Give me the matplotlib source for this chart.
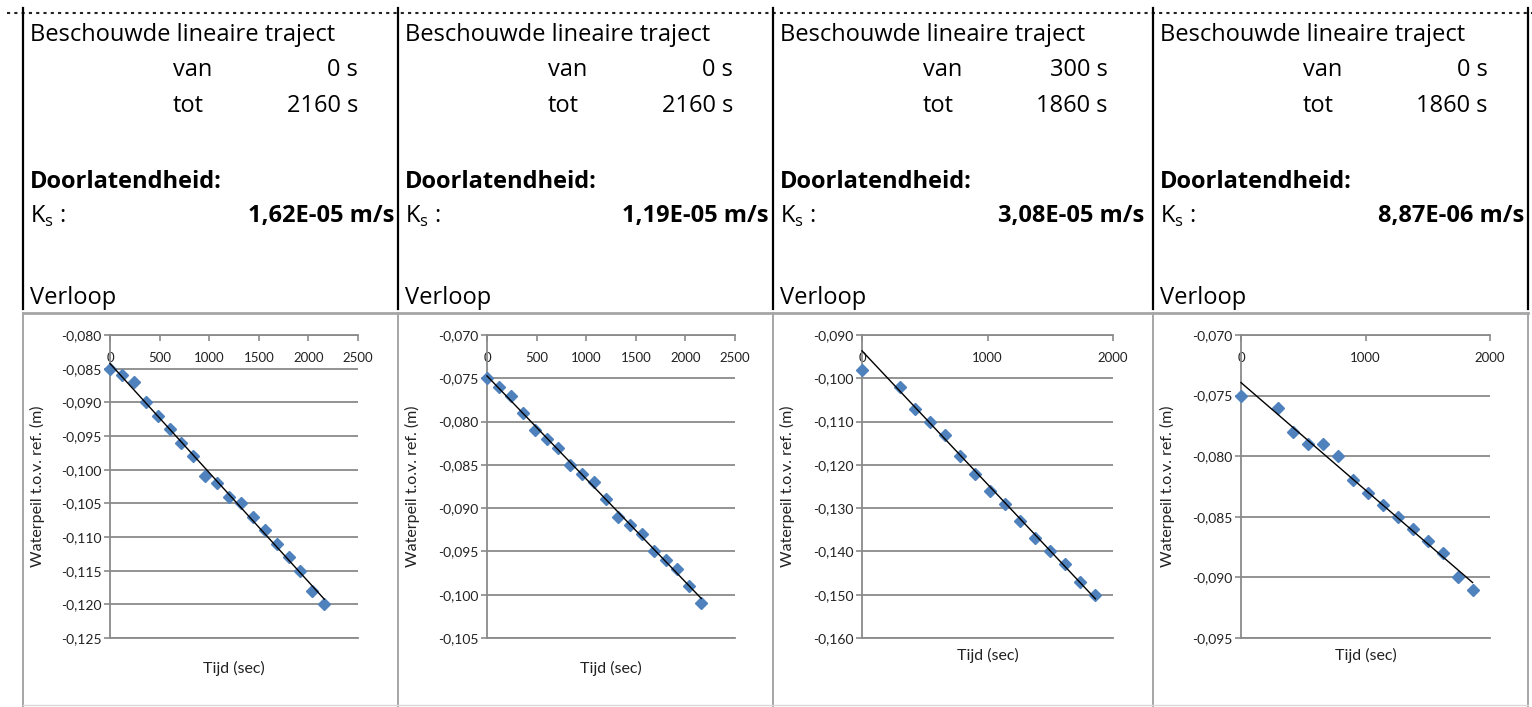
import numpy as np
import matplotlib.pyplot as plt
from matplotlib.lines import Line2D
from matplotlib.ticker import FuncFormatter, MultipleLocator

plt.rcParams['font.family'] = ['Lato', 'DejaVu Sans']
plt.rcParams['mathtext.fontset'] = 'custom'
plt.rcParams['mathtext.rm'] = 'Open Sans'

W, H = 1532, 707

# tijdstippen van de metingen (s)
tijd_a = [0, 120, 240, 360, 480, 600, 720, 840, 960, 1080, 1200, 1320,
          1440, 1560, 1680, 1800, 1920, 2040, 2160]
tijd_b = [0, 300, 420, 540, 660, 780, 900, 1020, 1140, 1260, 1380, 1500,
          1620, 1740, 1860]

# waterpeil t.o.v. referentie (m)
peil_1 = [-0.085, -0.086, -0.087, -0.090, -0.092, -0.094, -0.096, -0.098,
          -0.101, -0.102, -0.104, -0.105, -0.107, -0.109, -0.111, -0.113,
          -0.115, -0.118, -0.120]
peil_2 = [-0.075, -0.076, -0.077, -0.079, -0.081, -0.082, -0.083, -0.085,
          -0.086, -0.087, -0.089, -0.091, -0.092, -0.093, -0.095, -0.096,
          -0.097, -0.099, -0.101]
peil_3 = [-0.098, -0.102, -0.107, -0.110, -0.113, -0.118, -0.122, -0.126,
          -0.129, -0.133, -0.137, -0.140, -0.143, -0.147, -0.150]
peil_4 = [-0.075, -0.076, -0.078, -0.079, -0.079, -0.080, -0.082, -0.083,
          -0.084, -0.085, -0.086, -0.087, -0.088, -0.090, -0.091]

tijden = [tijd_a, tijd_a, tijd_b, tijd_b]
peilen = [peil_1, peil_2, peil_3, peil_4]

# lineair traject en doorlatendheid per proef
van = [0, 0, 300, 0]
tot = [2160, 2160, 1860, 1860]
ks = [1.62e-05, 1.19e-05, 3.08e-05, 8.87e-06]

# asbereik
y_min = [-0.125, -0.105, -0.160, -0.095]
y_max = [-0.080, -0.070, -0.090, -0.070]
y_step = [0.005, 0.005, 0.010, 0.005]
x_max = [2500, 2500, 2000, 2000]
x_step = [500, 500, 1000, 1000]

panel_x = [23, 398, 773, 1153, 1528]
ax_left = [110, 487, 862, 1241]
ax_right = [358, 735, 1113, 1490]
ax_top, ax_bot = 335, 638
xlabel_y = [668, 668, 655, 655]


def fx(x):
    return x / W


def fy(y):
    return 1 - y / H


def komma(v, pos=None):
    return f"{v:.3f}".replace('.', ',')


fig = plt.figure(figsize=(W / 100, H / 100), dpi=100)

# kaderlijnen
fig.add_artist(Line2D([fx(7), fx(W)], [fy(13), fy(13)], color='#222222',
                      lw=1.5, ls=(0, (1.5, 2))))
for x in panel_x:
    fig.add_artist(Line2D([fx(x), fx(x)], [fy(8), fy(309)], color='black', lw=1.6))
    fig.add_artist(Line2D([fx(x), fx(x)], [fy(313), fy(H)], color='#a6a6a6', lw=1.4))
fig.add_artist(Line2D([fx(panel_x[0]), fx(panel_x[-1])], [fy(313), fy(313)],
                      color='#a6a6a6', lw=2.0))
fig.add_artist(Line2D([fx(panel_x[0]), fx(panel_x[-1])], [fy(705), fy(705)],
                      color='#d9d9d9', lw=1.0))

kop = dict(fontsize=17, color='black', va='center',
           family=['Open Sans', 'DejaVu Sans'])
for i in range(4):
    p = panel_x[i]
    fig.text(fx(p + 7), fy(35), 'Beschouwde lineaire traject', **kop)
    fig.text(fx(p + 150), fy(70), 'van', **kop)
    fig.text(fx(p + 335), fy(70), f'{van[i]} s', ha='right', **kop)
    fig.text(fx(p + 150), fy(106), 'tot', **kop)
    fig.text(fx(p + 335), fy(106), f'{tot[i]} s', ha='right', **kop)
    fig.text(fx(p + 7), fy(182), 'Doorlatendheid:', fontweight='bold', **kop)
    fig.text(fx(p + 7), fy(216), 'K$_\\mathregular{s}$ :', **kop)
    ks_txt = f'{ks[i]:.2E}'.replace('.', ',')
    fig.text(fx(p + 371), fy(216), f'{ks_txt} m/s', ha='right',
             fontweight='bold', **kop)
    fig.text(fx(p + 7), fy(298), 'Verloop', **kop)

grid_c = '#8a8a8a'
txt_c = '#222222'
for i in range(4):
    L, R = ax_left[i], ax_right[i]
    ax = fig.add_axes([fx(L), fy(ax_bot), (R - L) / W, (ax_bot - ax_top) / H])
    t = np.array(tijden[i], dtype=float)
    y = np.array(peilen[i])

    # trendlijn met helling -Ks over het beschouwde traject
    sel = (t >= van[i]) & (t <= tot[i])
    b = np.mean(y[sel] + ks[i] * t[sel])
    tl = np.array([t.min(), t.max()])
    ax.plot(t, y, 'D', color='#4f81bd', ms=6.5, mec='#4f81bd', zorder=3,
            clip_on=False)
    ax.plot(tl, b - ks[i] * tl, color='black', lw=1.0, zorder=4, clip_on=False)

    ax.set_xlim(0, x_max[i])
    ax.set_ylim(y_min[i], y_max[i])
    ax.xaxis.set_major_locator(MultipleLocator(x_step[i]))
    ax.yaxis.set_major_locator(MultipleLocator(y_step[i]))
    ax.yaxis.set_major_formatter(FuncFormatter(komma))

    ax.xaxis.set_ticks_position('top')
    ax.tick_params(axis='x', direction='in', length=4, width=1.2, color=grid_c,
                   pad=-21, labelsize=9.5, labelcolor=txt_c)
    ax.tick_params(axis='y', direction='out', length=4, width=1.2, color=grid_c,
                   pad=2, labelsize=10, labelcolor=txt_c)
    ax.yaxis.grid(True, color=grid_c, lw=1.3)
    ax.set_axisbelow(True)
    ax.spines['right'].set_visible(False)
    for s in ('top', 'left', 'bottom'):
        ax.spines[s].set_color(grid_c)
        ax.spines[s].set_linewidth(1.3)

    ax.set_ylabel('Waterpeil t.o.v. ref. (m)', fontsize=11.5, color=txt_c)
    ax.yaxis.set_label_coords((panel_x[i] + 14 - L) / (R - L), 0.5)
    ax.yaxis.label.set_va('center')
    ax.set_xlabel('Tijd (sec)', fontsize=11.5, color=txt_c)
    ax.xaxis.set_label_position('bottom')
    ax.xaxis.set_label_coords(0.5, -(xlabel_y[i] - ax_bot) / (ax_bot - ax_top))
    ax.xaxis.label.set_va('center')

fig.savefig('out.png', dpi=100)
